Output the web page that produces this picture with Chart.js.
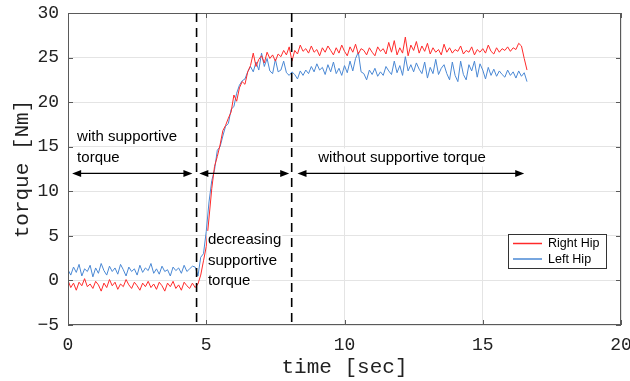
<!DOCTYPE html>
<html>
<head>
<meta charset="utf-8">
<script src="https://cdn.jsdelivr.net/npm/chart.js@4.4.0/dist/chart.umd.min.js"></script>
<style>
  html, body { margin: 0; padding: 0; background: #fff; }
  #wrap { width: 630px; height: 381px; }
</style>
</head>
<body>
<div id="wrap"><canvas id="torqueChart" width="630" height="381"></canvas></div>
<script>
// sample times: 0.0 .. 16.6 s every 0.1 s
const t0 = 0;
const dt = 0.1;

const rightHip = [
  0.0, -0.8, -0.3, -1.1, -0.2, -0.6, 0.2, -0.7, -0.4, -0.9,
  -0.1, -0.5, -1.2, -0.3, -0.8, 0.1, -0.6, -0.2, -1.0, -0.4,
  -0.7, 0.1, -0.5, -0.9, -0.2, -0.6, -1.1, -0.3, -0.7, -0.1,
  -0.8, -0.4, -1.0, -0.2, -0.6, -1.2, -0.3, -0.7, -0.1, -0.9,
  -0.5, -1.1, -0.2, -0.6, -0.9, -0.3, -0.8,
  -0.4, 0.6, 2.2, 3.8, 7.0, 10.3, 12.8, 13.9, 15.2, 16.8,
  17.4, 18.2, 18.9, 20.8, 20.1, 21.6, 22.3, 22.0, 23.4, 24.1,
  25.5, 24.0, 24.8, 25.2, 24.4, 25.6, 24.9, 25.3, 24.6, 25.4,
  25.1, 25.8, 25.3, 26.2, 24.6, 25.8, 25.4, 26.4, 25.7, 26.0,
  25.5, 26.3, 25.6, 25.9, 25.2, 26.1, 25.6, 26.3, 25.8, 25.3,
  26.1, 25.5, 26.4, 25.7, 25.2, 26.2, 25.6, 26.5, 25.4, 26.0,
  25.8, 25.3, 26.1, 25.6, 25.2, 26.2, 25.7, 26.0, 25.4, 26.7,
  25.6, 26.9, 25.3, 26.1, 25.5, 27.3, 25.2, 26.4, 25.8, 26.8,
  25.5, 26.3, 25.7, 26.6, 25.4, 26.1, 25.6, 25.9, 25.3, 26.5,
  25.6, 26.1, 25.5, 25.9, 25.7, 26.3, 25.4, 25.8, 25.6, 26.2,
  25.3, 25.9, 25.6, 26.0, 25.5, 26.4, 25.7, 25.4, 26.1, 25.6,
  26.0, 25.8, 26.2, 25.7, 26.1, 25.9, 26.6, 26.3, 24.9, 23.6
];

const leftHip = [
  1.2, 0.6, 1.5, 0.9, 1.8, 0.5, 1.3, 1.0, 1.7, 0.4,
  1.4, 0.8, 1.9, 1.1, 0.6, 1.6, 1.0, 1.4, 0.7, 1.8,
  1.2, 0.5, 1.5, 1.0, 1.3, 0.6, 1.7, 0.9, 1.4, 1.1,
  1.9, 0.8, 1.3, 0.7, 1.6, 1.0, 1.2, 0.5, 1.5, 1.1,
  1.4, 0.8, 1.7, 1.0, 1.3, 1.6, 1.5,
  0.5, 2.6, 3.0, 5.5, 8.8, 11.2, 12.4, 14.6, 15.0, 16.2,
  17.3, 17.6, 19.2, 19.5, 21.0, 21.9, 22.4, 22.6, 23.4, 24.0,
  23.4, 24.5, 23.6, 25.5, 24.0, 24.9, 23.5, 23.2, 24.8, 23.4,
  23.6, 24.6, 23.3, 23.0, 23.4, 23.1, 22.6, 23.5, 23.0, 23.6,
  23.2, 24.0, 23.4, 24.3, 23.6, 23.9, 23.1, 24.2, 23.4, 24.5,
  23.2, 23.8, 23.0, 24.1, 23.3, 24.6, 23.5, 24.9, 25.6, 23.4,
  23.2, 22.5, 23.6, 23.1, 23.8, 22.9, 23.4, 23.0, 24.0, 23.5,
  23.1, 24.6, 23.3, 24.1, 23.0, 25.1, 23.5, 24.2, 23.4, 24.4,
  23.7, 23.2, 24.5, 22.7, 23.9, 23.2, 24.8, 23.1, 23.8, 24.2,
  23.2, 22.5, 24.5, 23.0, 22.3, 24.6, 23.1, 22.5, 24.2, 23.5,
  24.6, 22.8, 24.3, 23.6, 22.6, 23.9, 23.0, 23.7, 22.9, 23.5,
  23.1, 22.8, 23.6, 23.0, 23.4, 22.7, 23.5, 22.9, 23.3, 22.3
];

const times = rightHip.map((_, i) => +(t0 + i * dt).toFixed(1));

const xTicks = [0, 5, 10, 15, 20];
const yTicks = [-5, 0, 5, 10, 15, 20, 25, 30];

// phase boundaries (sec) and annotation texts
const phaseLines = [4.65, 8.09];
const arrowY = 12;
const arrows = [[0.15, 4.5], [4.75, 8.0], [8.3, 16.5]];
const notes = [
  { x: 0.33, y: 16.1, lines: ["with supportive", "torque"] },
  { x: 9.05, y: 13.8, lines: ["without supportive torque"] },
  { x: 5.06, y: 4.55, lines: ["decreasing", "supportive", "torque"] }
];

const RED = "#ff2a2a";
const BLUE = "#4a88d4";

const overlay = {
  id: "overlay",
  afterDatasetsDraw(chart) {
    const ctx = chart.ctx;
    const xs = chart.scales.x;
    const ys = chart.scales.y;
    const area = chart.chartArea;
    ctx.save();

    // axes box + inward ticks
    ctx.strokeStyle = "#5a5a5a";
    ctx.lineWidth = 1;
    ctx.strokeRect(area.left + 0.5, area.top + 0.5, area.right - area.left - 1, area.bottom - area.top - 1);
    ctx.beginPath();
    xTicks.forEach(v => {
      const px = Math.round(xs.getPixelForValue(v)) + 0.5;
      ctx.moveTo(px, area.bottom); ctx.lineTo(px, area.bottom - 5);
      ctx.moveTo(px, area.top); ctx.lineTo(px, area.top + 5);
    });
    yTicks.forEach(v => {
      const py = Math.round(ys.getPixelForValue(v)) + 0.5;
      ctx.moveTo(area.left, py); ctx.lineTo(area.left + 5, py);
      ctx.moveTo(area.right, py); ctx.lineTo(area.right - 5, py);
    });
    ctx.stroke();

    // dashed phase lines
    ctx.strokeStyle = "#000";
    ctx.lineWidth = 1.6;
    ctx.setLineDash([9, 6]);
    phaseLines.forEach(v => {
      const px = xs.getPixelForValue(v);
      ctx.beginPath();
      ctx.moveTo(px, area.top);
      ctx.lineTo(px, area.bottom);
      ctx.stroke();
    });
    ctx.setLineDash([]);

    // double arrows
    const ay = ys.getPixelForValue(arrowY);
    ctx.lineWidth = 1.2;
    ctx.fillStyle = "#000";
    arrows.forEach(([a, b]) => {
      const x1 = xs.getPixelForValue(a);
      const x2 = xs.getPixelForValue(b);
      ctx.beginPath();
      ctx.moveTo(x1 + 4, ay); ctx.lineTo(x2 - 4, ay);
      ctx.stroke();
      ctx.beginPath();
      ctx.moveTo(x1, ay); ctx.lineTo(x1 + 9, ay - 3.5); ctx.lineTo(x1 + 9, ay + 3.5); ctx.closePath();
      ctx.moveTo(x2, ay); ctx.lineTo(x2 - 9, ay - 3.5); ctx.lineTo(x2 - 9, ay + 3.5); ctx.closePath();
      ctx.fill();
    });

    // text notes
    ctx.font = "15px 'Liberation Sans', Arial, sans-serif";
    ctx.textBaseline = "middle";
    ctx.textAlign = "left";
    notes.forEach(n => {
      const px = xs.getPixelForValue(n.x);
      const py = ys.getPixelForValue(n.y);
      n.lines.forEach((s, i) => {
        const w = ctx.measureText(s).width;
        ctx.fillStyle = "#fff";
        ctx.fillRect(px - 1, py + i * 20.5 - 9, w + 2, 18);
        ctx.fillStyle = "#000";
        ctx.fillText(s, px, py + i * 20.5);
      });
    });

    // legend box
    const lx = 508, ly = 234, lw = 98, lh = 34;
    ctx.fillStyle = "#fff";
    ctx.fillRect(lx, ly, lw, lh);
    ctx.strokeStyle = "#333";
    ctx.lineWidth = 1;
    ctx.strokeRect(lx + 0.5, ly + 0.5, lw, lh);
    ctx.font = "12.5px 'Liberation Sans', Arial, sans-serif";
    chart.data.datasets.forEach((ds, i) => {
      const yy = ly + 9.5 + i * 15.5;
      ctx.strokeStyle = ds.borderColor;
      ctx.lineWidth = 1.5;
      ctx.beginPath();
      ctx.moveTo(lx + 5, yy); ctx.lineTo(lx + 34, yy);
      ctx.stroke();
      ctx.fillStyle = "#000";
      ctx.fillText(ds.label, lx + 40, yy + 0.5);
    });

    ctx.restore();
  }
};

const monoFont = "'Liberation Mono', 'DejaVu Sans Mono', monospace";

const config = {
  type: "line",
  data: {
    datasets: [
      {
        label: "Right Hip",
        data: times.map((t, i) => ({ x: t, y: rightHip[i] })),
        borderColor: RED,
        borderWidth: 1,
        pointRadius: 0,
        tension: 0
      },
      {
        label: "Left Hip",
        data: times.map((t, i) => ({ x: t, y: leftHip[i] })),
        borderColor: BLUE,
        borderWidth: 1,
        pointRadius: 0,
        tension: 0
      }
    ]
  },
  options: {
    responsive: false,
    animation: false,
    layout: {
      autoPadding: false,
      padding: { left: 0, right: 9, top: 13, bottom: 0 }
    },
    plugins: {
      legend: { display: false },
      tooltip: { enabled: false }
    },
    scales: {
      x: {
        type: "linear",
        min: 0,
        max: 20,
        afterFit(scale) {
          scale.height = 56;
          scale.paddingLeft = 0;
          scale.paddingRight = 0;
        },
        afterBuildTicks(scale) { scale.ticks = xTicks.map(v => ({ value: v })); },
        ticks: {
          color: "#222",
          padding: 9,
          font: { family: monoFont, size: 18 }
        },
        grid: { color: "#e4e4e4", drawTicks: false },
        border: { display: false },
        title: {
          display: true,
          text: "time [sec]",
          color: "#222",
          font: { family: monoFont, size: 21 },
          padding: { top: 0, bottom: 1 }
        }
      },
      y: {
        min: -5,
        max: 30,
        afterFit(scale) {
          scale.width = 68;
          scale.paddingTop = 0;
          scale.paddingBottom = 0;
        },
        afterBuildTicks(scale) { scale.ticks = yTicks.map(v => ({ value: v })); },
        ticks: {
          color: "#222",
          padding: 9,
          font: { family: monoFont, size: 18 },
          callback: v => (v < 0 ? "\u2212" + Math.abs(v) : String(v))
        },
        grid: { color: "#e4e4e4", drawTicks: false },
        border: { display: false },
        title: {
          display: true,
          text: "torque [Nm]",
          color: "#222",
          font: { family: monoFont, size: 21 },
          padding: { top: 10, bottom: 0 }
        }
      }
    }
  },
  plugins: [overlay]
};

const torqueChart = new Chart(document.getElementById("torqueChart"), config);
</script>
</body>
</html>
